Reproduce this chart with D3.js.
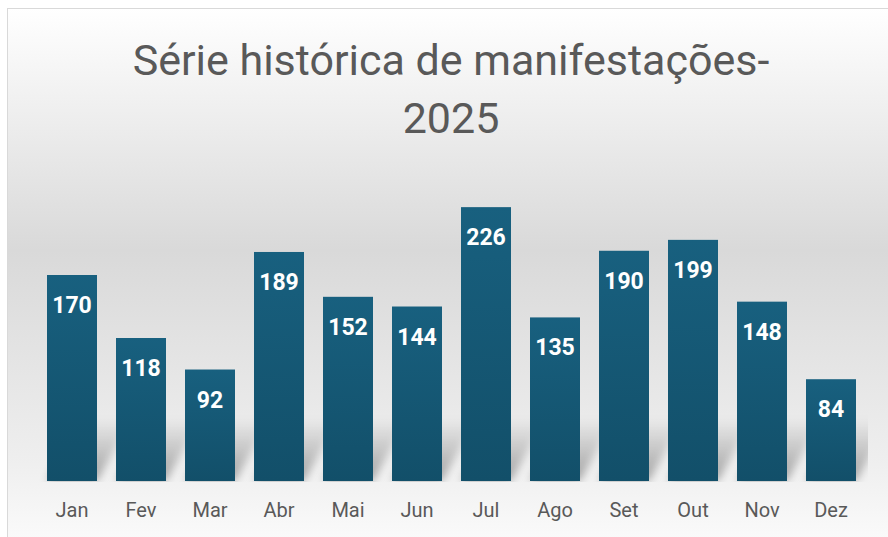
<!DOCTYPE html>
<html>
<head>
<meta charset="utf-8">
<script src="https://cdn.jsdelivr.net/npm/d3@7"></script>
<style>
  html, body { margin: 0; padding: 0; background: #fff; }
  svg { display: block; }
</style>
</head>
<body>
<svg id="chart"></svg>
<script>
// data
const months = ["Jan", "Fev", "Mar", "Abr", "Mai", "Jun", "Jul", "Ago", "Set", "Out", "Nov", "Dez"];
const values = [170, 118, 92, 189, 152, 144, 226, 135, 190, 199, 148, 84];
const titleLines = ["Série histórica de manifestações-", "2025"];

const W = 888, H = 537;
const svg = d3.select("#chart").attr("width", W).attr("height", H);
const defs = svg.append("defs");

// chart area background gradient
const bg = defs.append("linearGradient").attr("id", "bg")
  .attr("x1", 0).attr("y1", 0).attr("x2", 0).attr("y2", 1);
bg.append("stop").attr("offset", "0%").attr("stop-color", "#ffffff");
bg.append("stop").attr("offset", "45%").attr("stop-color", "#d9d9d9");
bg.append("stop").attr("offset", "85%").attr("stop-color", "#efefef");
bg.append("stop").attr("offset", "100%").attr("stop-color", "#fbfbfb");

const barGrad = defs.append("linearGradient").attr("id", "barGrad")
  .attr("x1", 0).attr("y1", 0).attr("x2", 0).attr("y2", 1);
barGrad.append("stop").attr("offset", "0%").attr("stop-color", "#18607f");
barGrad.append("stop").attr("offset", "100%").attr("stop-color", "#124f69");

const shGrad = defs.append("linearGradient").attr("id", "shGrad")
  .attr("x1", 0).attr("y1", 1).attr("x2", 0).attr("y2", 0);
shGrad.append("stop").attr("offset", "0%").attr("stop-color", "#000").attr("stop-opacity", 0.33);
shGrad.append("stop").attr("offset", "100%").attr("stop-color", "#000").attr("stop-opacity", 0);

defs.append("filter").attr("id", "blur").attr("x", "-50%").attr("y", "-50%")
  .attr("width", "200%").attr("height", "200%")
  .append("feGaussianBlur").attr("stdDeviation", 4);

const areaTop = 8.5, areaLeft = 7.5;
svg.append("rect").attr("x", areaLeft).attr("y", areaTop).attr("width", W).attr("height", H)
  .attr("fill", "url(#bg)").attr("stroke", "#d9d9d9").attr("stroke-width", 1);

const base = 481;
const x = d3.scaleBand().domain(months).range([37.5, 865.5]).paddingInner(19 / 69).paddingOuter(9.5 / 69);
const y = d3.scaleLinear().domain([0, 250]).range([base, base - 250 * 206 / 170]);

defs.append("clipPath").attr("id", "plotClip")
  .append("rect").attr("x", 30).attr("y", 150).attr("width", 838).attr("height", base + 1 - 150);

// soft perspective shadows behind bars
const shadowG = svg.append("g").attr("clip-path", "url(#plotClip)");
shadowG.selectAll("path").data(values).join("path")
  .attr("d", (d, i) => {
    const x0 = x(months[i]), x1 = x0 + x.bandwidth();
    const h = Math.min(base - y(d), 62), dx = 34;
    return `M${x0},${base}L${x1},${base}L${x1 + dx},${base - h}L${x0 + dx},${base - h}Z`;
  })
  .attr("fill", "url(#shGrad)")
  .attr("filter", "url(#blur)");

svg.append("g").selectAll("rect").data(values).join("rect")
  .attr("x", (d, i) => x(months[i]))
  .attr("y", d => y(d))
  .attr("width", x.bandwidth())
  .attr("height", d => base - y(d))
  .attr("fill", "url(#barGrad)");

svg.append("g").selectAll("text").data(values).join("text")
  .attr("x", (d, i) => x(months[i]) + x.bandwidth() / 2)
  .attr("y", d => y(d) + 38)
  .attr("text-anchor", "middle")
  .attr("font-family", "Roboto, sans-serif")
  .attr("font-weight", "bold")
  .attr("font-size", 23)
  .attr("fill", "#ffffff")
  .text(d => d);

// month axis
const xAxis = svg.append("g").attr("transform", `translate(0,${base})`)
  .call(d3.axisBottom(x).tickSize(0).tickPadding(22));
xAxis.select(".domain").remove();
xAxis.selectAll("text")
  .attr("font-family", "Roboto, sans-serif")
  .attr("font-size", 20)
  .attr("fill", "#595959");

svg.append("g").selectAll("text").data(titleLines).join("text")
  .attr("x", 451)
  .attr("y", (d, i) => 75 + i * 58)
  .attr("text-anchor", "middle")
  .attr("font-family", "Roboto, sans-serif")
  .attr("font-size", 43)
  .attr("fill", "#595959")
  .text(d => d);
</script>
</body>
</html>
